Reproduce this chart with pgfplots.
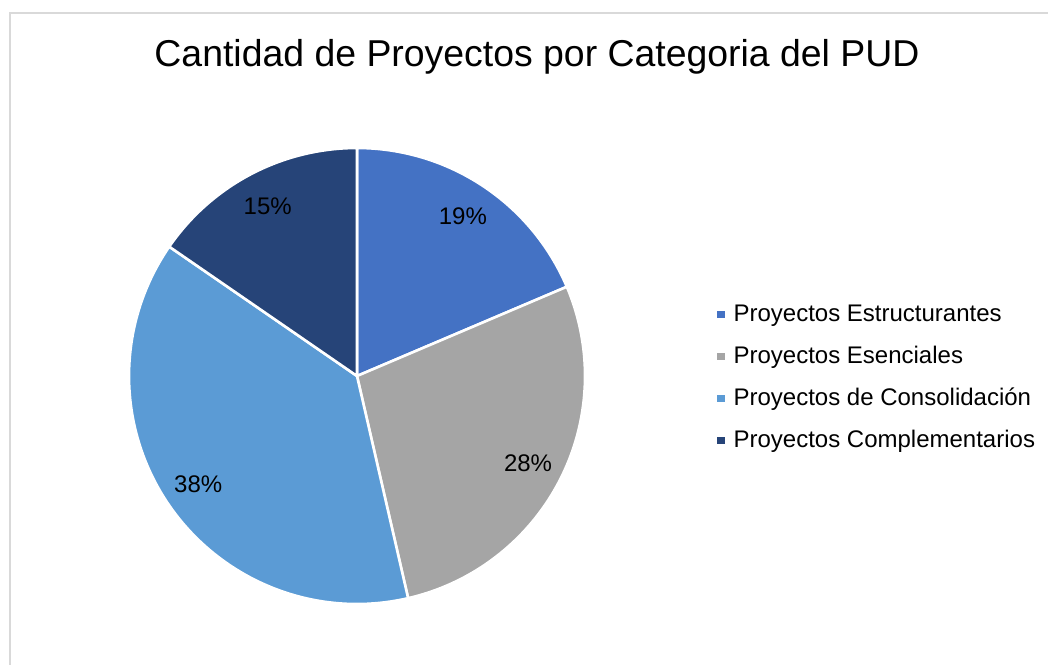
\documentclass[border=0pt]{standalone}
\usepackage{pgfplots}
\usepackage{pgfplotstable}
\pgfplotsset{compat=1.18}
\usepackage{fontspec}
\setmainfont{Liberation Sans}
\definecolor{c1}{HTML}{4472C4}
\definecolor{c2}{HTML}{A5A5A5}
\definecolor{c3}{HTML}{5B9BD5}
\definecolor{c4}{HTML}{264478}
\definecolor{frame}{HTML}{D9D9D9}
\newcommand\lbl{\fontsize{12}{14}\selectfont}

\pgfplotstableread{
v col name
18.6 c1 {Proyectos Estructurantes}
27.8 c2 {Proyectos Esenciales}
38.2 c3 {Proyectos de Consolidación}
15.4 c4 {Proyectos Complementarios}
}\piedata

\begin{document}
\begin{tikzpicture}
\path[use as bounding box] (0,0) rectangle (524pt,332pt);
\begin{axis}[hide axis, scale only axis, width=524pt, height=332pt,
  xmin=0, xmax=524, ymin=0, ymax=332, clip=false, anchor=origin, at={(0,0)}]
\draw[frame, line width=1pt] (axis cs:5,-10) -- (axis cs:5,325.25) -- (axis cs:540,325.25);
\node[anchor=base, font=\fontsize{18.7}{22}\selectfont, inner sep=0pt] at (axis cs:268.5,298.6) {Cantidad de Proyectos por Categoria del PUD};
\pgfmathsetmacro\startang{90}
\pgfplotsforeachungrouped \i in {0,1,2,3}{%
  \pgfplotstablegetelem{\i}{v}\of\piedata \let\val\pgfplotsretval
  \pgfplotstablegetelem{\i}{col}\of\piedata \let\col\pgfplotsretval
  \pgfplotstablegetelem{\i}{name}\of\piedata \let\nm\pgfplotsretval
  \pgfmathsetmacro\endang{\startang-3.6*\val}
  \pgfmathsetmacro\midang{(\startang+\endang)/2}
  \pgfmathtruncatemacro\pct{round(\val)}
  \pgfmathsetmacro\ly{171-21*\i}
  \pgfmathsetmacro\sy{\ly+3.75}
  \edef\tmp{%
    \noexpand\fill[fill=\col, draw=white, line width=1.3pt, line join=round] (axis cs:178.5,144) -- ++(\startang:114pt) arc[start angle=\startang, end angle=\endang, radius=114pt] -- cycle;
    \noexpand\path (axis cs:178.5,144) ++(\midang:96pt) node[font=\noexpand\lbl, inner sep=0pt] {\pct\noexpand\%};
    \noexpand\fill[\col] (axis cs:358.6,\sy) ++(0pt,-1.9pt) rectangle ++(3.8pt,3.8pt);
    \noexpand\node[anchor=base west, font=\noexpand\lbl, inner sep=0pt] at (axis cs:366.6,\ly) {\nm};
  }%
  \tmp
  \global\let\startang\endang
}
\end{axis}
\end{tikzpicture}
\end{document}
